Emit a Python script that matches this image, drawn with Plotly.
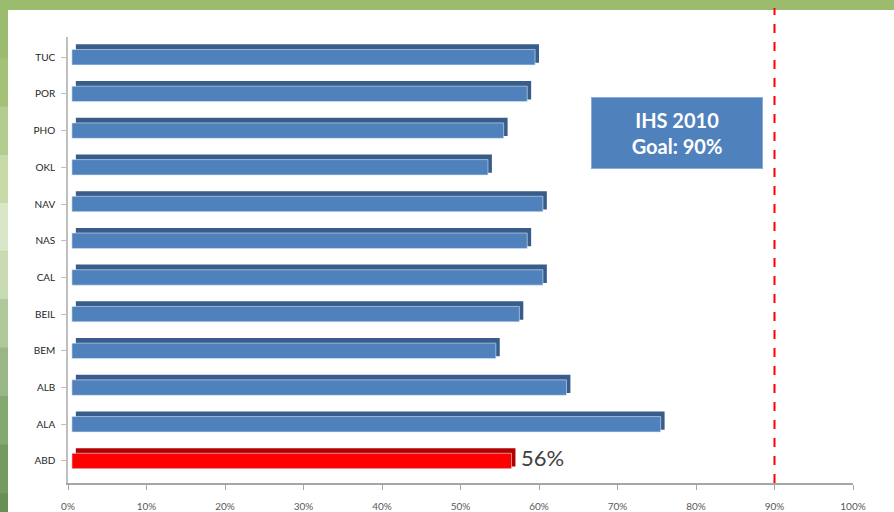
import plotly.graph_objects as go

# --- data ---
sites = ['ABD', 'ALA', 'ALB', 'BEM', 'BEIL', 'CAL', 'NAS', 'NAV', 'OKL', 'PHO', 'POR', 'TUC']
rates = [56, 75, 63, 54, 57, 60, 58, 60, 53, 55, 58, 59]
highlight = 'ABD'
goal = 90
tick_vals = [0, 10, 20, 30, 40, 50, 60, 70, 80, 90, 100]
tick_text = [f'{v}%' for v in tick_vals]

front = ['#FF0000' if s == highlight else '#4F81BD' for s in sites]
side = ['#B00000' if s == highlight else '#385D8A' for s in sites]

fig = go.Figure()

# fake 3d depth: darker bar shifted right/up, drawn behind
fig.add_trace(go.Bar(
    y=sites, x=rates, base=[1.0] * len(sites), orientation='h',
    marker=dict(color=side, line_width=0), width=0.50, offset=-0.15,
    hoverinfo='skip', showlegend=False))
fig.add_trace(go.Bar(
    y=sites, x=rates, base=[0.5] * len(sites), orientation='h',
    marker=dict(color=front, line=dict(color='#DCE6F2', width=0.6)),
    width=0.42, offset=-0.21, showlegend=False))

# value label for the highlighted site
i = sites.index(highlight)
fig.add_annotation(x=rates[i] + 0.5, y=sites[i], text=f'{rates[i]}%', showarrow=False,
                   xanchor='left', yanchor='middle', xshift=7, yshift=3,
                   font=dict(family='Lato', size=22, color='#404040'))

# goal line
fig.add_shape(type='line', xref='x', yref='paper', x0=goal, x1=goal, y0=0, y1=1.065,
              line=dict(color='#FF0000', width=2, dash='dash'))

# goal box
fig.add_annotation(xref='paper', yref='paper', x=0.776, y=0.784, showarrow=False,
                   xanchor='center', yanchor='middle',
                   text='<b>IHS 2010<br>Goal: 90%</b>', align='center',
                   font=dict(family='Lato', size=20, color='white'),
                   bgcolor='#4F81BD', bordercolor='#8EAADB', borderwidth=1,
                   borderpad=10, width=150)

# slide frame: green border with a gradient on the left strip
fig.add_shape(type='rect', xref='paper', yref='paper', x0=-0.0764, x1=1.1, y0=-0.12, y1=1.0605,
              fillcolor='white', line_width=0, layer='below')
strip = ['#9BBB6E', '#A4C17A', '#B3CC8F', '#C6DAAA', '#D9E7C8', '#C9DBB2', '#B0C99A',
         '#98B784', '#84A872', '#749A63', '#678F58']
n = len(strip)
for k, c in enumerate(strip):
    fig.add_shape(type='rect', xref='paper', yref='paper', x0=-0.1, x1=-0.0764,
                  y0=1.0605 - (k + 1) * 1.19 / n, y1=1.0605 - k * 1.19 / n,
                  fillcolor=c, line_width=0, layer='below')

fig.update_layout(
    width=894, height=512,
    margin=dict(l=68, r=41, t=37, b=29),
    paper_bgcolor='#9BBB6E', plot_bgcolor='rgba(0,0,0,0)',
    barmode='overlay', bargap=0.5,
    font=dict(family='Lato', color='#404040'),
)
fig.update_xaxes(range=[0, 100], tickvals=tick_vals, ticktext=tick_text, automargin=False,
                 tickfont=dict(size=10, color='#595959'), showgrid=False, zeroline=False,
                 showline=True, linecolor='#A6A6A6', linewidth=1.5,
                 ticks='outside', ticklen=5, tickcolor='#A6A6A6', ticklabelstandoff=8)
fig.update_yaxes(range=[-0.6, 11.55], tickfont=dict(size=10, color='#262626'), showgrid=False,
                 zeroline=False, showline=True, linecolor='#BFBFBF', linewidth=1.5,
                 ticks='outside', ticklen=5, tickcolor='#BFBFBF', ticklabelstandoff=4)

# drop the default page margin so the figure sits at the window corner
fig.write_html('out.html', config={'displayModeBar': False},
               post_script="document.body.style.margin='0';")
